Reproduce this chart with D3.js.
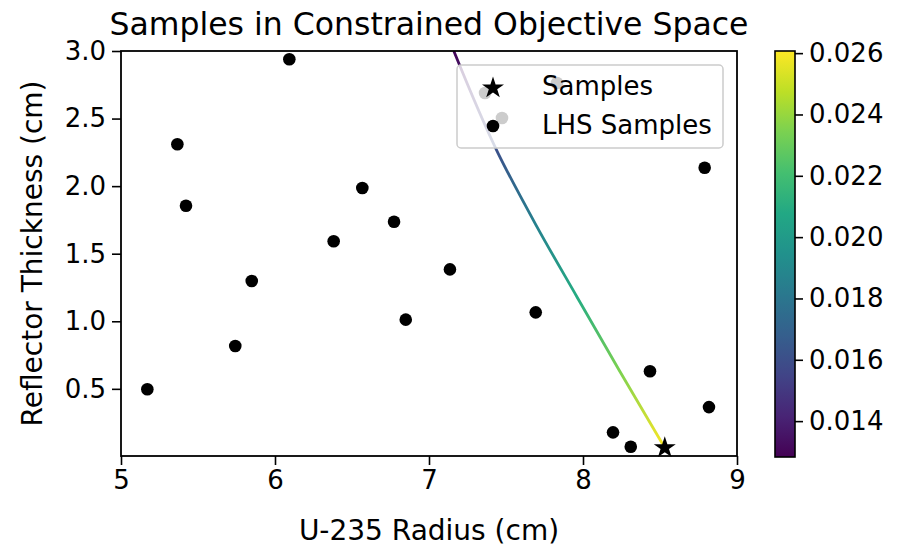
<!DOCTYPE html>
<html>
<head>
<meta charset="utf-8">
<script src="https://cdn.jsdelivr.net/npm/d3@7"></script>
<style>
  body { margin: 0; background: #fff; }
  svg text { font-family: "DejaVu Sans", sans-serif; fill: #000; }
</style>
</head>
<body>
<div id="chart"></div>
<script>
// LHS sample points (radius, thickness)
var lhsX = [6.093, 5.366, 5.422, 6.567, 6.773, 6.381, 5.849, 5.742, 5.171, 6.849,
            8.790, 7.136, 7.693, 8.435, 8.818, 8.195, 8.310, 7.364, 7.474, 7.831];
var lhsY = [2.939, 2.310, 1.855, 1.986, 1.737, 1.592, 1.298, 0.817, 0.497, 1.012,
            2.136, 1.384, 1.066, 0.630, 0.365, 0.178, 0.071, 2.689, 2.504, 2.763];

// optimiser samples path, coloured by objective value
var pathX = [7.161, 7.448, 7.695, 7.961, 8.234, 8.531];
var pathY = [3.000, 2.245, 1.712, 1.180, 0.639, 0.064];
var pathVal = [0.0130, 0.0162, 0.0186, 0.0210, 0.0234, 0.0260];

// final sample (star)
var starX = 8.531, starY = 0.064;

var xTicks = [5, 6, 7, 8, 9];
var yTicks = [0.5, 1.0, 1.5, 2.0, 2.5, 3.0];
var cTicks = [0.014, 0.016, 0.018, 0.020, 0.022, 0.024, 0.026];
var cDomain = [0.01283, 0.02607];

var width = 898, height = 551;
var plot = { left: 121, right: 737, top: 51, bottom: 456 };

var svg = d3.select("#chart").append("svg")
    .attr("width", width)
    .attr("height", height);

var x = d3.scaleLinear().domain([5, 9]).range([plot.left, plot.right]);
var y = d3.scaleLinear().domain([0.003, 3.0]).range([plot.bottom, plot.top]);
var color = d3.scaleSequential(d3.interpolateViridis).domain(cDomain);

var defs = svg.append("defs");
defs.append("clipPath").attr("id", "clip")
    .append("rect")
    .attr("x", plot.left).attr("y", plot.top)
    .attr("width", plot.right - plot.left)
    .attr("height", plot.bottom - plot.top);

// gradient for the path, along y
var y0 = y(pathY[0]), y1 = y(pathY[pathY.length - 1]);
var grad = defs.append("linearGradient")
    .attr("id", "pathGrad")
    .attr("gradientUnits", "userSpaceOnUse")
    .attr("x1", 0).attr("x2", 0)
    .attr("y1", y0).attr("y2", y1);
pathY.forEach(function(v, i) {
    grad.append("stop")
        .attr("offset", (y(v) - y0) / (y1 - y0))
        .attr("stop-color", color(pathVal[i]));
});

var g = svg.append("g").attr("clip-path", "url(#clip)");

var line = d3.line()
    .x(function(d, i) { return x(pathX[i]); })
    .y(function(d, i) { return y(pathY[i]); })
    .curve(d3.curveMonotoneY);

g.append("path")
    .attr("d", line(pathX))
    .attr("fill", "none")
    .attr("stroke", "url(#pathGrad)")
    .attr("stroke-width", 2.8);

g.selectAll("circle.lhs")
    .data(lhsX)
    .enter()
    .append("circle")
    .attr("class", "lhs")
    .attr("cx", function(d) { return x(d); })
    .attr("cy", function(d, i) { return y(lhsY[i]); })
    .attr("r", 6.3)
    .attr("fill", "#000");

var star = d3.symbol().type(d3.symbolStar).size(150);
svg.append("path")
    .attr("d", star())
    .attr("transform", "translate(" + x(starX) + "," + y(starY) + ")")
    .attr("fill", "#000");

// axes
var xAxis = svg.append("g")
    .attr("transform", "translate(0," + plot.bottom + ")")
    .call(d3.axisBottom(x).tickValues(xTicks).tickFormat(d3.format("d")).tickSize(9).tickPadding(6));
var yAxis = svg.append("g")
    .attr("transform", "translate(" + plot.left + ",0)")
    .call(d3.axisLeft(y).tickValues(yTicks).tickFormat(d3.format(".1f")).tickSize(9).tickPadding(6));
[xAxis, yAxis].forEach(function(a) {
    a.select(".domain").remove();
    a.selectAll("line").attr("stroke", "#000").attr("stroke-width", 1.6);
    a.selectAll("text").style("font-size", "26px").attr("fill", "#000");
});

// frame
svg.append("rect")
    .attr("x", plot.left).attr("y", plot.top)
    .attr("width", plot.right - plot.left)
    .attr("height", plot.bottom - plot.top)
    .attr("fill", "none")
    .attr("stroke", "#000")
    .attr("stroke-width", 1.8);

// legend
var lg = svg.append("g");
lg.append("rect")
    .attr("x", 457).attr("y", 65)
    .attr("width", 266).attr("height", 83)
    .attr("rx", 4)
    .attr("fill", "rgba(255,255,255,0.8)")
    .attr("stroke", "#cccccc")
    .attr("stroke-width", 1.5);
lg.append("path")
    .attr("d", star())
    .attr("transform", "translate(493,88)")
    .attr("fill", "#000");
lg.append("circle")
    .attr("cx", 493).attr("cy", 126).attr("r", 6.3)
    .attr("fill", "#000");
lg.append("text").attr("x", 542).attr("y", 95).style("font-size", "26px").text("Samples");
lg.append("text").attr("x", 542).attr("y", 134).style("font-size", "26px").text("LHS Samples");

// title and labels
svg.append("text")
    .attr("x", (plot.left + plot.right) / 2).attr("y", 35)
    .attr("text-anchor", "middle")
    .style("font-size", "31.5px")
    .text("Samples in Constrained Objective Space");
svg.append("text")
    .attr("x", (plot.left + plot.right) / 2).attr("y", 540)
    .attr("text-anchor", "middle")
    .style("font-size", "28px")
    .text("U-235 Radius (cm)");
svg.append("text")
    .attr("transform", "translate(42," + (plot.top + plot.bottom) / 2 + ") rotate(-90)")
    .attr("text-anchor", "middle")
    .style("font-size", "28px")
    .text("Reflector Thickness (cm)");

// colorbar
var cb = { left: 775, right: 795, top: 51, bottom: 457 };
var cy = d3.scaleLinear().domain(cDomain).range([cb.bottom, cb.top]);
var cgrad = defs.append("linearGradient")
    .attr("id", "cbGrad")
    .attr("x1", 0).attr("x2", 0).attr("y1", 1).attr("y2", 0);
d3.range(0, 1.0001, 0.1).forEach(function(t) {
    cgrad.append("stop")
        .attr("offset", t)
        .attr("stop-color", d3.interpolateViridis(t));
});
svg.append("rect")
    .attr("x", cb.left).attr("y", cb.top)
    .attr("width", cb.right - cb.left).attr("height", cb.bottom - cb.top)
    .attr("fill", "url(#cbGrad)")
    .attr("stroke", "#000")
    .attr("stroke-width", 1.6);
var cAxis = svg.append("g")
    .attr("transform", "translate(" + cb.right + ",0)")
    .call(d3.axisRight(cy).tickValues(cTicks).tickFormat(d3.format(".3f")).tickSize(8).tickPadding(6));
cAxis.select(".domain").remove();
cAxis.selectAll("line").attr("stroke", "#000").attr("stroke-width", 1.6);
cAxis.selectAll("text").style("font-size", "26px").attr("fill", "#000");
</script>
</body>
</html>
